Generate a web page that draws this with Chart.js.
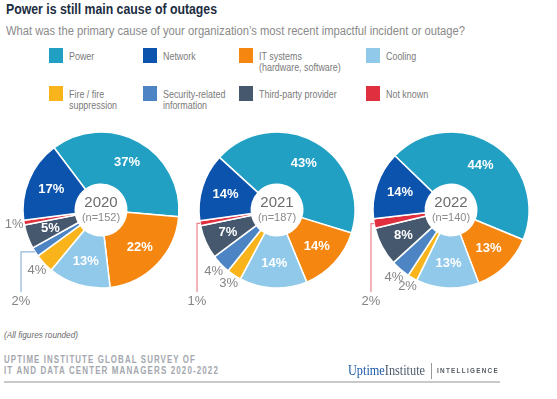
<!DOCTYPE html>
<html>
<head>
<meta charset="utf-8">
<script src="https://cdn.jsdelivr.net/npm/chart.js@4.4.1/dist/chart.umd.min.js"></script>
<style>
  html, body { margin: 0; padding: 0; background: #ffffff; }
  body { width: 557px; height: 399px; position: relative; overflow: hidden; font-family: "Liberation Sans", Arial, sans-serif; }
  .abs { position: absolute; white-space: nowrap; transform-origin: 0 0; display: inline-block; }
  #title { left: 6px; top: 2px; font-size: 14px; line-height: 14px; font-weight: bold; color: #1c2d3f; }
  #subtitle { left: 6px; top: 25px; font-size: 12px; line-height: 12px; color: #8a8a8a; }
  .sw { position: absolute; width: 14px; height: 15px; }
  .lt { position: absolute; font-size: 11px; line-height: 11.5px; color: #7a7a7a; white-space: pre; transform-origin: 0 0; transform: scaleX(0.81); }
  .chartbox { position: absolute; width: 240px; height: 240px; }
  #note { left: 4px; top: 331px; font-size: 9px; line-height: 9px; font-style: italic; color: #6a6a6a; }
  .src { font-size: 10px; line-height: 10px; letter-spacing: 1.4px; color: #a4a7ae; font-weight: bold; }
  #src1 { left: 4px; top: 355px; }
  #src2 { left: 4px; top: 366px; }
  #rule { position: absolute; left: 4px; top: 381px; width: 496px; height: 1.5px; background: #c9c9c9; }
  #logo { left: 348px; top: 364px; font-family: "Liberation Serif", "DejaVu Serif", serif; font-size: 14px; line-height: 14px; }
  #logo .u { color: #1e5ca8; }
  #logo .i { color: #4b5a6e; }
  #sep { position: absolute; left: 431px; top: 363px; width: 1px; height: 16px; background: #9a9a9a; }
  #intel { left: 437px; top: 367px; font-size: 8px; line-height: 8px; font-weight: bold; letter-spacing: 1.6px; color: #555b63; }
</style>
</head>
<body>
<div id="title" class="abs" data-w="211">Power is still main cause of outages</div>
<div id="subtitle" class="abs" data-w="459">What was the primary cause of your organization’s most recent impactful incident or outage?</div>
<div id="legend"></div>
<div id="charts"></div>
<div id="note" class="abs" data-w="74">(All figures rounded)</div>
<div id="src1" class="abs src" data-w="192">UPTIME INSTITUTE GLOBAL SURVEY OF</div>
<div id="src2" class="abs src" data-w="215">IT AND DATA CENTER MANAGERS 2020-2022</div>
<div id="logo" class="abs" data-w="77"><span class="u">Uptime</span><span class="i">Institute</span></div>
<div id="sep"></div>
<div id="intel" class="abs" data-w="62">INTELLIGENCE</div>
<div id="rule"></div>

<script>
// ---------- data ----------
const categories = [
  'Power',
  'Network',
  'IT systems\n(hardware, software)',
  'Cooling',
  'Fire / fire\nsuppression',
  'Security-related\ninformation',
  'Third-party provider',
  'Not known'
];
const colors = ['#22a0c4', '#0b53ad', '#f5860f', '#90c9ea', '#f8b41a', '#4d85c4', '#46586d', '#e0303f'];
const years = ['2020', '2021', '2022'];
const sampleSizes = [152, 187, 140];
const values2020 = [37, 17, 22, 13, 4, 2, 5, 1];
const values2021 = [43, 14, 14, 14, 3, 4, 7, 1];
const values2022 = [44, 14, 13, 13, 2, 4, 8, 2];
const valuesByYear = [values2020, values2021, values2022];
// clockwise drawing order of categories, starting from Power
const drawOrder = [0, 2, 3, 4, 5, 6, 7, 1];
// category index that gets a leader line in each year
const leaderSlices = [5, 7, 7];

// ---------- layout / style ----------
const chartCenters = [[101, 210], [277, 210], [451, 210]];
const rotations = [-37, -47.6, -46];
const legendColX = [49, 143, 239, 366];
const legendRowY = [48, 86];

// legend
const legend = document.getElementById('legend');
categories.forEach((c, i) => {
  const col = i % 4, row = Math.floor(i / 4);
  const sw = document.createElement('div');
  sw.className = 'sw';
  sw.style.left = legendColX[col] + 'px';
  sw.style.top = legendRowY[row] + 'px';
  sw.style.background = colors[i];
  legend.appendChild(sw);
  const t = document.createElement('div');
  t.className = 'lt';
  t.style.left = (legendColX[col] + 20) + 'px';
  t.style.top = (legendRowY[row] + 2.5) + 'px';
  t.textContent = c;
  legend.appendChild(t);
});

// fit widths of condensed text
document.querySelectorAll('[data-w]').forEach(el => {
  const w = parseFloat(el.getAttribute('data-w'));
  const cur = el.getBoundingClientRect().width;
  if (cur > 0) el.style.transform = 'scaleX(' + (w / cur) + ')';
});

// label plugin
const labelPlugin = {
  id: 'sliceLabels',
  afterDatasetsDraw(chart) {
    const ctx = chart.ctx;
    const meta = chart.getDatasetMeta(0);
    const ds = chart.data.datasets[0];
    const yi = chart.options.plugins.sliceLabels.yearIndex;
    const leaderCat = leaderSlices[yi];
    let cx = 0, cy = 0;
    meta.data.forEach((arc, k) => {
      const p = arc.getProps(['x', 'y', 'startAngle', 'endAngle', 'innerRadius', 'outerRadius'], true);
      cx = p.x; cy = p.y;
      const v = ds.data[k];
      const cat = ds.cats[k];
      const mid = (p.startAngle + p.endAngle) / 2;
      const txt = v + '%';
      ctx.save();
      ctx.textAlign = 'center';
      ctx.textBaseline = 'middle';
      if (v >= 5) {
        const r = (p.innerRadius + p.outerRadius) / 2 + 2;
        ctx.fillStyle = '#ffffff';
        ctx.font = 'bold 13px "Liberation Sans", Arial, sans-serif';
        ctx.fillText(txt, p.x + Math.cos(mid) * r, p.y + Math.sin(mid) * r);
      } else if (cat === leaderCat) {
        const sx = p.x + Math.cos(mid) * p.outerRadius;
        const sy = p.y + Math.sin(mid) * p.outerRadius;
        const lx = p.x - p.outerRadius - 2;
        const ey = p.y + p.outerRadius + 4;
        ctx.strokeStyle = Chart.helpers.color(colors[cat]).alpha(0.6).rgbString();
        ctx.lineWidth = 1.2;
        ctx.beginPath();
        ctx.moveTo(sx, sy);
        ctx.lineTo(lx, sy);
        ctx.lineTo(lx, ey);
        ctx.stroke();
        ctx.fillStyle = '#858585';
        ctx.font = '13px "Liberation Sans", Arial, sans-serif';
        ctx.fillText(txt, lx, ey + 9);
      } else {
        const r = p.outerRadius + 10;
        ctx.fillStyle = '#858585';
        ctx.font = '13px "Liberation Sans", Arial, sans-serif';
        ctx.fillText(txt, p.x + Math.cos(mid) * r, p.y + Math.sin(mid) * r);
      }
      ctx.restore();
    });
    // centre text
    ctx.save();
    ctx.textAlign = 'center';
    ctx.textBaseline = 'middle';
    ctx.fillStyle = '#6b6b6b';
    ctx.font = '15px "Liberation Sans", Arial, sans-serif';
    ctx.fillText(years[yi], cx, cy - 7);
    ctx.fillStyle = '#8a8a8a';
    ctx.font = '11px "Liberation Sans", Arial, sans-serif';
    ctx.fillText('(n=' + sampleSizes[yi] + ')', cx, cy + 8);
    ctx.restore();
  }
};

const chartsDiv = document.getElementById('charts');
years.forEach((y, yi) => {
  const box = document.createElement('div');
  box.className = 'chartbox';
  box.style.left = (chartCenters[yi][0] - 120) + 'px';
  box.style.top = (chartCenters[yi][1] - 120) + 'px';
  const cv = document.createElement('canvas');
  cv.width = 240; cv.height = 240;
  box.appendChild(cv);
  chartsDiv.appendChild(box);
  const vals = valuesByYear[yi];
  new Chart(cv, {
    type: 'doughnut',
    data: {
      labels: drawOrder.map(i => categories[i]),
      datasets: [{
        data: drawOrder.map(i => vals[i]),
        cats: drawOrder,
        backgroundColor: drawOrder.map(i => colors[i]),
        borderColor: '#ffffff',
        borderWidth: 1.5
      }]
    },
    options: {
      responsive: false,
      animation: false,
      devicePixelRatio: 1,
      radius: 78,
      cutout: '33%',
      rotation: rotations[yi],
      layout: { padding: 0 },
      plugins: {
        legend: { display: false },
        tooltip: { enabled: false },
        sliceLabels: { yearIndex: yi }
      }
    },
    plugins: [labelPlugin]
  });
});
</script>
</body>
</html>
